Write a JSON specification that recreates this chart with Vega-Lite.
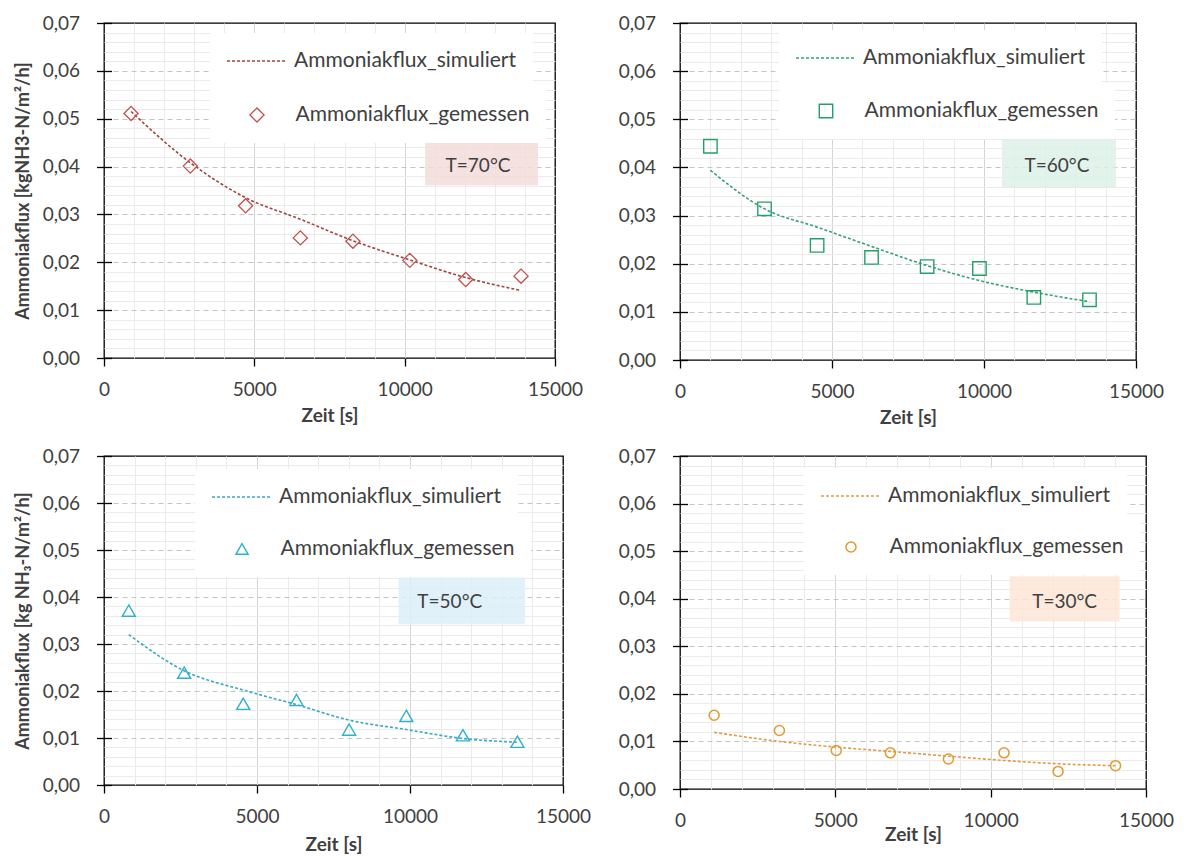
{
  "$schema": "https://vega.github.io/schema/vega-lite/v6.json",
  "background": "white",
  "padding": {"left": 13, "top": 13, "right": 5, "bottom": 5},
  "bounds": "flush",
  "columns": 2,
  "spacing": {"row": 96, "column": 117},
  "config": {
    "font": "Lato",
    "view": {"stroke": "#000000", "strokeWidth": 1.3},
    "axis": {"labelColor": "#404040", "titleColor": "#404040"},
    "legend": {"labelColor": "#404040", "labelFontSize": 21, "labelLimit": 500, "fillColor": "white", "padding": 16, "clipHeight": 24, "orient": "none", "title": null}
  },
  "resolve": {"scale": {"shape": "independent", "strokeDash": "independent"}, "legend": {"shape": "independent", "strokeDash": "independent"}},
  "datasets": {
    "m70": [
      {"Zeit": 900, "Ammoniakflux": 0.0511, "Reihe": "Ammoniakflux_gemessen"},
      {"Zeit": 2870, "Ammoniakflux": 0.0401, "Reihe": "Ammoniakflux_gemessen"},
      {"Zeit": 4710, "Ammoniakflux": 0.0318, "Reihe": "Ammoniakflux_gemessen"},
      {"Zeit": 6530, "Ammoniakflux": 0.0251, "Reihe": "Ammoniakflux_gemessen"},
      {"Zeit": 8280, "Ammoniakflux": 0.0244, "Reihe": "Ammoniakflux_gemessen"},
      {"Zeit": 10170, "Ammoniakflux": 0.0204, "Reihe": "Ammoniakflux_gemessen"},
      {"Zeit": 12030, "Ammoniakflux": 0.0164, "Reihe": "Ammoniakflux_gemessen"},
      {"Zeit": 13870, "Ammoniakflux": 0.0171, "Reihe": "Ammoniakflux_gemessen"}
    ],
    "s70": [
      {"Zeit": 900, "Ammoniakflux": 0.0515, "Reihe": "Ammoniakflux_simuliert"},
      {"Zeit": 2870, "Ammoniakflux": 0.0408, "Reihe": "Ammoniakflux_simuliert"},
      {"Zeit": 4710, "Ammoniakflux": 0.0335, "Reihe": "Ammoniakflux_simuliert"},
      {"Zeit": 6530, "Ammoniakflux": 0.0290, "Reihe": "Ammoniakflux_simuliert"},
      {"Zeit": 8280, "Ammoniakflux": 0.0245, "Reihe": "Ammoniakflux_simuliert"},
      {"Zeit": 10170, "Ammoniakflux": 0.0205, "Reihe": "Ammoniakflux_simuliert"},
      {"Zeit": 12030, "Ammoniakflux": 0.0168, "Reihe": "Ammoniakflux_simuliert"},
      {"Zeit": 13870, "Ammoniakflux": 0.0141, "Reihe": "Ammoniakflux_simuliert"}
    ],
    "m60": [
      {"Zeit": 1000, "Ammoniakflux": 0.0444, "Reihe": "Ammoniakflux_gemessen"},
      {"Zeit": 2780, "Ammoniakflux": 0.0314, "Reihe": "Ammoniakflux_gemessen"},
      {"Zeit": 4510, "Ammoniakflux": 0.0238, "Reihe": "Ammoniakflux_gemessen"},
      {"Zeit": 6300, "Ammoniakflux": 0.0213, "Reihe": "Ammoniakflux_gemessen"},
      {"Zeit": 8130, "Ammoniakflux": 0.0194, "Reihe": "Ammoniakflux_gemessen"},
      {"Zeit": 9850, "Ammoniakflux": 0.0190, "Reihe": "Ammoniakflux_gemessen"},
      {"Zeit": 11640, "Ammoniakflux": 0.0130, "Reihe": "Ammoniakflux_gemessen"},
      {"Zeit": 13470, "Ammoniakflux": 0.0125, "Reihe": "Ammoniakflux_gemessen"}
    ],
    "s60": [
      {"Zeit": 1000, "Ammoniakflux": 0.0394, "Reihe": "Ammoniakflux_simuliert"},
      {"Zeit": 2780, "Ammoniakflux": 0.0314, "Reihe": "Ammoniakflux_simuliert"},
      {"Zeit": 4510, "Ammoniakflux": 0.0276, "Reihe": "Ammoniakflux_simuliert"},
      {"Zeit": 6300, "Ammoniakflux": 0.0236, "Reihe": "Ammoniakflux_simuliert"},
      {"Zeit": 8130, "Ammoniakflux": 0.0196, "Reihe": "Ammoniakflux_simuliert"},
      {"Zeit": 9850, "Ammoniakflux": 0.0165, "Reihe": "Ammoniakflux_simuliert"},
      {"Zeit": 11640, "Ammoniakflux": 0.0141, "Reihe": "Ammoniakflux_simuliert"},
      {"Zeit": 13470, "Ammoniakflux": 0.0121, "Reihe": "Ammoniakflux_simuliert"}
    ],
    "m50": [
      {"Zeit": 810, "Ammoniakflux": 0.0371, "Reihe": "Ammoniakflux_gemessen"},
      {"Zeit": 2620, "Ammoniakflux": 0.0239, "Reihe": "Ammoniakflux_gemessen"},
      {"Zeit": 4550, "Ammoniakflux": 0.0173, "Reihe": "Ammoniakflux_gemessen"},
      {"Zeit": 6290, "Ammoniakflux": 0.0181, "Reihe": "Ammoniakflux_gemessen"},
      {"Zeit": 8010, "Ammoniakflux": 0.0118, "Reihe": "Ammoniakflux_gemessen"},
      {"Zeit": 9880, "Ammoniakflux": 0.0147, "Reihe": "Ammoniakflux_gemessen"},
      {"Zeit": 11730, "Ammoniakflux": 0.0106, "Reihe": "Ammoniakflux_gemessen"},
      {"Zeit": 13510, "Ammoniakflux": 0.0092, "Reihe": "Ammoniakflux_gemessen"}
    ],
    "s50": [
      {"Zeit": 810, "Ammoniakflux": 0.0320, "Reihe": "Ammoniakflux_simuliert"},
      {"Zeit": 2620, "Ammoniakflux": 0.0243, "Reihe": "Ammoniakflux_simuliert"},
      {"Zeit": 4550, "Ammoniakflux": 0.0202, "Reihe": "Ammoniakflux_simuliert"},
      {"Zeit": 6290, "Ammoniakflux": 0.0171, "Reihe": "Ammoniakflux_simuliert"},
      {"Zeit": 8010, "Ammoniakflux": 0.0138, "Reihe": "Ammoniakflux_simuliert"},
      {"Zeit": 9880, "Ammoniakflux": 0.0118, "Reihe": "Ammoniakflux_simuliert"},
      {"Zeit": 11730, "Ammoniakflux": 0.0099, "Reihe": "Ammoniakflux_simuliert"},
      {"Zeit": 13510, "Ammoniakflux": 0.0091, "Reihe": "Ammoniakflux_simuliert"}
    ],
    "m30": [
      {"Zeit": 1100, "Ammoniakflux": 0.0155, "Reihe": "Ammoniakflux_gemessen"},
      {"Zeit": 3200, "Ammoniakflux": 0.0123, "Reihe": "Ammoniakflux_gemessen"},
      {"Zeit": 5030, "Ammoniakflux": 0.0081, "Reihe": "Ammoniakflux_gemessen"},
      {"Zeit": 6770, "Ammoniakflux": 0.0076, "Reihe": "Ammoniakflux_gemessen"},
      {"Zeit": 8640, "Ammoniakflux": 0.0063, "Reihe": "Ammoniakflux_gemessen"},
      {"Zeit": 10430, "Ammoniakflux": 0.0076, "Reihe": "Ammoniakflux_gemessen"},
      {"Zeit": 12170, "Ammoniakflux": 0.0037, "Reihe": "Ammoniakflux_gemessen"},
      {"Zeit": 14020, "Ammoniakflux": 0.0049, "Reihe": "Ammoniakflux_gemessen"}
    ],
    "s30": [
      {"Zeit": 1100, "Ammoniakflux": 0.0119, "Reihe": "Ammoniakflux_simuliert"},
      {"Zeit": 3200, "Ammoniakflux": 0.0100, "Reihe": "Ammoniakflux_simuliert"},
      {"Zeit": 5030, "Ammoniakflux": 0.0088, "Reihe": "Ammoniakflux_simuliert"},
      {"Zeit": 6770, "Ammoniakflux": 0.0079, "Reihe": "Ammoniakflux_simuliert"},
      {"Zeit": 8640, "Ammoniakflux": 0.0069, "Reihe": "Ammoniakflux_simuliert"},
      {"Zeit": 10430, "Ammoniakflux": 0.0060, "Reihe": "Ammoniakflux_simuliert"},
      {"Zeit": 12170, "Ammoniakflux": 0.0053, "Reihe": "Ammoniakflux_simuliert"},
      {"Zeit": 14020, "Ammoniakflux": 0.0049, "Reihe": "Ammoniakflux_simuliert"}
    ]
  },
  "concat": [
    {
      "width": 451, "height": 335,
      "layer": [
        {
          "layer": [
            {"data": {"name": "s70"},
              "mark": {"type": "line", "color": "#a0453f", "strokeWidth": 1.6, "interpolate": "monotone"},
              "encoding": {
                "x": {"field": "Zeit", "type": "quantitative", "scale": {"domain": [0, 15000], "nice": false},
                  "axis": {"values": [0, 5000, 10000, 15000], "format": "d", "labelFlush": false, "grid": true, "gridColor": "#d4d4d4", "gridOpacity": {"condition": {"test": "datum.value == 0 || datum.value == 15000", "value": 0}, "value": 1}, "domain": false, "tickSize": 8, "tickColor": "#000000", "tickWidth": 1.3, "labelFontSize": 19, "labelPadding": 14, "title": "Zeit [s]", "titleFontSize": 19, "titleFontWeight": "bold", "titlePadding": 7}},
                "y": {"field": "Ammoniakflux", "type": "quantitative", "scale": {"domain": [0, 0.07], "nice": false},
                  "axis": {"values": [0, 0.01, 0.02, 0.03, 0.04, 0.05, 0.06, 0.07], "labelExpr": "replace(format(datum.value, '.2f'), '.', ',')", "grid": true, "gridDash": [5, 4], "gridColor": "#c4c4c4", "gridOpacity": {"condition": {"test": "datum.value == 0 || datum.value == 0.07", "value": 0}, "value": 1}, "domain": false, "offset": -7.5, "tickSize": 15, "tickColor": "#000000", "tickWidth": 1.3, "labelPadding": 17, "labelFontSize": 19, "title": "Ammoniakflux  [kgNH3-N/m²/h]", "titleFontSize": 18, "titleFontWeight": "bold", "titlePadding": 10}},
                "strokeDash": {"field": "Reihe", "type": "nominal", "scale": {"range": [[3, 2]]},
                  "legend": {"legendX": 106, "legendY": 10, "symbolType": "stroke", "symbolSize": 3364, "symbolStrokeColor": "#a0453f", "symbolStrokeWidth": 1.5, "labelOffset": 8}}
              }},
            {"data": {"values": [{"Label": "T=70°C"}]}, "mark": {"type": "rect", "fill": "#f2dcdb", "opacity": 0.85},
              "encoding": {"x": {"datum": 10680, "type": "quantitative"}, "x2": {"datum": 14430}, "y": {"datum": 0.0361, "type": "quantitative"}, "y2": {"datum": 0.0459}}},
            {"data": {"values": [{"Label": "T=70°C"}]}, "mark": {"type": "text", "fontSize": 19, "color": "#404040"},
              "encoding": {"x": {"datum": 12440, "type": "quantitative"}, "y": {"datum": 0.0402, "type": "quantitative"}, "text": {"field": "Label"}}},
            {"data": {"name": "m70"}, "mark": {"type": "point", "filled": false, "color": "#c0504d", "size": 200, "strokeWidth": 1.3, "opacity": 1},
              "encoding": {
                "x": {"field": "Zeit", "type": "quantitative"},
                "y": {"field": "Ammoniakflux", "type": "quantitative"},
                "shape": {"field": "Reihe", "type": "nominal", "scale": {"range": ["diamond"]},
                  "legend": {"legendX": 106, "legendY": 64, "symbolSize": 200, "symbolOffset": 20.5, "labelOffset": 28, "symbolStrokeColor": "#c0504d", "symbolStrokeWidth": 1.3}}
              }}
          ]
        },
        {
          "data": {"name": "m70"},
          "mark": {"type": "point", "opacity": 0},
          "encoding": {
            "x": {"field": "Zeit", "type": "quantitative", "scale": {"domain": [0, 15000], "nice": false},
              "axis": {"orient": "top", "values": [1000, 2000, 3000, 4000, 6000, 7000, 8000, 9000, 11000, 12000, 13000, 14000], "grid": true, "gridColor": "#ebebeb", "labels": false, "ticks": false, "domain": false, "title": null}},
            "y": {"field": "Ammoniakflux", "type": "quantitative", "scale": {"domain": [0, 0.07], "nice": false},
              "axis": {"orient": "right", "values": [0.002, 0.004, 0.006, 0.008, 0.012, 0.014, 0.016, 0.018, 0.022, 0.024, 0.026, 0.028, 0.032, 0.034, 0.036, 0.038, 0.042, 0.044, 0.046, 0.048, 0.052, 0.054, 0.056, 0.058, 0.062, 0.064, 0.066, 0.068], "grid": true, "gridColor": "#ebebeb", "labels": false, "ticks": false, "domain": false, "title": null}}
          }
        }
      ],
      "resolve": {"scale": {"x": "independent", "y": "independent"}}
    },
    {
      "width": 456, "height": 337,
      "layer": [
        {
          "layer": [
            {"data": {"name": "s60"},
              "mark": {"type": "line", "color": "#3a9f78", "strokeWidth": 1.6, "interpolate": "monotone"},
              "encoding": {
                "x": {"field": "Zeit", "type": "quantitative", "scale": {"domain": [0, 15000], "nice": false},
                  "axis": {"values": [0, 5000, 10000, 15000], "format": "d", "labelFlush": false, "grid": true, "gridColor": "#d4d4d4", "gridOpacity": {"condition": {"test": "datum.value == 0 || datum.value == 15000", "value": 0}, "value": 1}, "domain": false, "tickSize": 8, "tickColor": "#000000", "tickWidth": 1.3, "labelFontSize": 19, "labelPadding": 14, "title": "Zeit [s]", "titleFontSize": 19, "titleFontWeight": "bold", "titlePadding": 7}},
                "y": {"field": "Ammoniakflux", "type": "quantitative", "scale": {"domain": [0, 0.07], "nice": false},
                  "axis": {"values": [0, 0.01, 0.02, 0.03, 0.04, 0.05, 0.06, 0.07], "labelExpr": "replace(format(datum.value, '.2f'), '.', ',')", "grid": true, "gridDash": [5, 4], "gridColor": "#c4c4c4", "gridOpacity": {"condition": {"test": "datum.value == 0 || datum.value == 0.07", "value": 0}, "value": 1}, "domain": false, "offset": -7.5, "tickSize": 15, "tickColor": "#000000", "tickWidth": 1.3, "labelPadding": 17, "labelFontSize": 19, "title": null}},
                "strokeDash": {"field": "Reihe", "type": "nominal", "scale": {"range": [[3, 2]]},
                  "legend": {"legendX": 99, "legendY": 7, "symbolType": "stroke", "symbolSize": 3364, "symbolStrokeColor": "#3a9f78", "symbolStrokeWidth": 1.5, "labelOffset": 8}}
              }},
            {"data": {"values": [{"Label": "T=60°C"}]}, "mark": {"type": "rect", "fill": "#dcf1e7", "opacity": 0.85},
              "encoding": {"x": {"datum": 10590, "type": "quantitative"}, "x2": {"datum": 14340}, "y": {"datum": 0.0359, "type": "quantitative"}, "y2": {"datum": 0.0463}}},
            {"data": {"values": [{"Label": "T=60°C"}]}, "mark": {"type": "text", "fontSize": 19, "color": "#404040"},
              "encoding": {"x": {"datum": 12400, "type": "quantitative"}, "y": {"datum": 0.0404, "type": "quantitative"}, "text": {"field": "Label"}}},
            {"data": {"name": "m60"}, "mark": {"type": "point", "filled": false, "color": "#23a06a", "size": 180, "strokeWidth": 1.4, "opacity": 1},
              "encoding": {
                "x": {"field": "Zeit", "type": "quantitative"},
                "y": {"field": "Ammoniakflux", "type": "quantitative"},
                "shape": {"field": "Reihe", "type": "nominal", "scale": {"range": ["square"]},
                  "legend": {"legendX": 99, "legendY": 60, "symbolSize": 180, "symbolOffset": 20.5, "labelOffset": 28, "symbolStrokeColor": "#23a06a", "symbolStrokeWidth": 1.4}}
              }}
          ]
        },
        {
          "data": {"name": "m60"},
          "mark": {"type": "point", "opacity": 0},
          "encoding": {
            "x": {"field": "Zeit", "type": "quantitative", "scale": {"domain": [0, 15000], "nice": false},
              "axis": {"orient": "top", "values": [1000, 2000, 3000, 4000, 6000, 7000, 8000, 9000, 11000, 12000, 13000, 14000], "grid": true, "gridColor": "#ebebeb", "labels": false, "ticks": false, "domain": false, "title": null}},
            "y": {"field": "Ammoniakflux", "type": "quantitative", "scale": {"domain": [0, 0.07], "nice": false},
              "axis": {"orient": "right", "values": [0.002, 0.004, 0.006, 0.008, 0.012, 0.014, 0.016, 0.018, 0.022, 0.024, 0.026, 0.028, 0.032, 0.034, 0.036, 0.038, 0.042, 0.044, 0.046, 0.048, 0.052, 0.054, 0.056, 0.058, 0.062, 0.064, 0.066, 0.068], "grid": true, "gridColor": "#ebebeb", "labels": false, "ticks": false, "domain": false, "title": null}}
          }
        }
      ],
      "resolve": {"scale": {"x": "independent", "y": "independent"}}
    },
    {
      "width": 459, "height": 329,
      "layer": [
        {
          "layer": [
            {"data": {"name": "s50"},
              "mark": {"type": "line", "color": "#3aa8c4", "strokeWidth": 1.6, "interpolate": "monotone"},
              "encoding": {
                "x": {"field": "Zeit", "type": "quantitative", "scale": {"domain": [0, 15000], "nice": false},
                  "axis": {"values": [0, 5000, 10000, 15000], "format": "d", "labelFlush": false, "grid": true, "gridColor": "#d4d4d4", "gridOpacity": {"condition": {"test": "datum.value == 0 || datum.value == 15000", "value": 0}, "value": 1}, "domain": false, "tickSize": 8, "tickColor": "#000000", "tickWidth": 1.3, "labelFontSize": 19, "labelPadding": 14, "title": "Zeit [s]", "titleFontSize": 19, "titleFontWeight": "bold", "titlePadding": 9}},
                "y": {"field": "Ammoniakflux", "type": "quantitative", "scale": {"domain": [0, 0.07], "nice": false},
                  "axis": {"values": [0, 0.01, 0.02, 0.03, 0.04, 0.05, 0.06, 0.07], "labelExpr": "replace(format(datum.value, '.2f'), '.', ',')", "grid": true, "gridDash": [5, 4], "gridColor": "#c4c4c4", "gridOpacity": {"condition": {"test": "datum.value == 0 || datum.value == 0.07", "value": 0}, "value": 1}, "domain": false, "offset": -7.5, "tickSize": 15, "tickColor": "#000000", "tickWidth": 1.3, "labelPadding": 17, "labelFontSize": 19, "title": "Ammoniakflux  [kg NH₃-N/m²/h]", "titleFontSize": 18, "titleFontWeight": "bold", "titlePadding": 10}},
                "strokeDash": {"field": "Reihe", "type": "nominal", "scale": {"range": [[3, 2]]},
                  "legend": {"legendX": 91, "legendY": 13, "symbolType": "stroke", "symbolSize": 3364, "symbolStrokeColor": "#3aa8c4", "symbolStrokeWidth": 1.5, "labelOffset": 8}}
              }},
            {"data": {"values": [{"Label": "T=50°C"}]}, "mark": {"type": "rect", "fill": "#dbeef9", "opacity": 0.85},
              "encoding": {"x": {"datum": 9630, "type": "quantitative"}, "x2": {"datum": 13760}, "y": {"datum": 0.0342, "type": "quantitative"}, "y2": {"datum": 0.0441}}},
            {"data": {"values": [{"Label": "T=50°C"}]}, "mark": {"type": "text", "fontSize": 19, "color": "#404040"},
              "encoding": {"x": {"datum": 11300, "type": "quantitative"}, "y": {"datum": 0.0390, "type": "quantitative"}, "text": {"field": "Label"}}},
            {"data": {"name": "m50"}, "mark": {"type": "point", "filled": false, "color": "#2fb2c8", "size": 170, "strokeWidth": 1.4, "opacity": 1},
              "encoding": {
                "x": {"field": "Zeit", "type": "quantitative"},
                "y": {"field": "Ammoniakflux", "type": "quantitative"},
                "shape": {"field": "Reihe", "type": "nominal", "scale": {"range": ["triangle-up"]},
                  "legend": {"legendX": 91, "legendY": 65, "symbolSize": 150, "symbolOffset": 20.5, "labelOffset": 28, "symbolStrokeColor": "#2fb2c8", "symbolStrokeWidth": 1.4}}
              }}
          ]
        },
        {
          "data": {"name": "m50"},
          "mark": {"type": "point", "opacity": 0},
          "encoding": {
            "x": {"field": "Zeit", "type": "quantitative", "scale": {"domain": [0, 15000], "nice": false},
              "axis": {"orient": "top", "values": [1000, 2000, 3000, 4000, 6000, 7000, 8000, 9000, 11000, 12000, 13000, 14000], "grid": true, "gridColor": "#ebebeb", "labels": false, "ticks": false, "domain": false, "title": null}},
            "y": {"field": "Ammoniakflux", "type": "quantitative", "scale": {"domain": [0, 0.07], "nice": false},
              "axis": {"orient": "right", "values": [0.002, 0.004, 0.006, 0.008, 0.012, 0.014, 0.016, 0.018, 0.022, 0.024, 0.026, 0.028, 0.032, 0.034, 0.036, 0.038, 0.042, 0.044, 0.046, 0.048, 0.052, 0.054, 0.056, 0.058, 0.062, 0.064, 0.066, 0.068], "grid": true, "gridColor": "#ebebeb", "labels": false, "ticks": false, "domain": false, "title": null}}
          }
        }
      ],
      "resolve": {"scale": {"x": "independent", "y": "independent"}}
    },
    {
      "width": 466, "height": 333,
      "layer": [
        {
          "layer": [
            {"data": {"name": "s30"},
              "mark": {"type": "line", "color": "#e39a45", "strokeWidth": 1.6, "interpolate": "monotone"},
              "encoding": {
                "x": {"field": "Zeit", "type": "quantitative", "scale": {"domain": [0, 15000], "nice": false},
                  "axis": {"values": [0, 5000, 10000, 15000], "format": "d", "labelFlush": false, "grid": true, "gridColor": "#d4d4d4", "gridOpacity": {"condition": {"test": "datum.value == 0 || datum.value == 15000", "value": 0}, "value": 1}, "domain": false, "tickSize": 8, "tickColor": "#000000", "tickWidth": 1.3, "labelFontSize": 19, "labelPadding": 14, "title": "Zeit [s]", "titleFontSize": 19, "titleFontWeight": "bold", "titlePadding": -5}},
                "y": {"field": "Ammoniakflux", "type": "quantitative", "scale": {"domain": [0, 0.07], "nice": false},
                  "axis": {"values": [0, 0.01, 0.02, 0.03, 0.04, 0.05, 0.06, 0.07], "labelExpr": "replace(format(datum.value, '.2f'), '.', ',')", "grid": true, "gridDash": [5, 4], "gridColor": "#c4c4c4", "gridOpacity": {"condition": {"test": "datum.value == 0 || datum.value == 0.07", "value": 0}, "value": 1}, "domain": false, "offset": -7.5, "tickSize": 15, "tickColor": "#000000", "tickWidth": 1.3, "labelPadding": 17, "labelFontSize": 19, "title": null}},
                "strokeDash": {"field": "Reihe", "type": "nominal", "scale": {"range": [[3, 2]]},
                  "legend": {"legendX": 124, "legendY": 12, "symbolType": "stroke", "symbolSize": 3364, "symbolStrokeColor": "#e39a45", "symbolStrokeWidth": 1.5, "labelOffset": 8}}
              }},
            {"data": {"values": [{"Label": "T=30°C"}]}, "mark": {"type": "rect", "fill": "#fde6d6", "opacity": 0.85},
              "encoding": {"x": {"datum": 10610, "type": "quantitative"}, "x2": {"datum": 14150}, "y": {"datum": 0.0352, "type": "quantitative"}, "y2": {"datum": 0.0447}}},
            {"data": {"values": [{"Label": "T=30°C"}]}, "mark": {"type": "text", "fontSize": 19, "color": "#404040"},
              "encoding": {"x": {"datum": 12380, "type": "quantitative"}, "y": {"datum": 0.0394, "type": "quantitative"}, "text": {"field": "Label"}}},
            {"data": {"name": "m30"}, "mark": {"type": "point", "filled": false, "color": "#e09a30", "size": 100, "strokeWidth": 1.5, "opacity": 1},
              "encoding": {
                "x": {"field": "Zeit", "type": "quantitative"},
                "y": {"field": "Ammoniakflux", "type": "quantitative"},
                "shape": {"field": "Reihe", "type": "nominal", "scale": {"range": ["circle"]},
                  "legend": {"legendX": 124, "legendY": 63, "symbolSize": 100, "symbolOffset": 20.5, "labelOffset": 28, "symbolStrokeColor": "#e09a30", "symbolStrokeWidth": 1.5}}
              }}
          ]
        },
        {
          "data": {"name": "m30"},
          "mark": {"type": "point", "opacity": 0},
          "encoding": {
            "x": {"field": "Zeit", "type": "quantitative", "scale": {"domain": [0, 15000], "nice": false},
              "axis": {"orient": "top", "values": [1000, 2000, 3000, 4000, 6000, 7000, 8000, 9000, 11000, 12000, 13000, 14000], "grid": true, "gridColor": "#ebebeb", "labels": false, "ticks": false, "domain": false, "title": null}},
            "y": {"field": "Ammoniakflux", "type": "quantitative", "scale": {"domain": [0, 0.07], "nice": false},
              "axis": {"orient": "right", "values": [0.002, 0.004, 0.006, 0.008, 0.012, 0.014, 0.016, 0.018, 0.022, 0.024, 0.026, 0.028, 0.032, 0.034, 0.036, 0.038, 0.042, 0.044, 0.046, 0.048, 0.052, 0.054, 0.056, 0.058, 0.062, 0.064, 0.066, 0.068], "grid": true, "gridColor": "#ebebeb", "labels": false, "ticks": false, "domain": false, "title": null}}
          }
        }
      ],
      "resolve": {"scale": {"x": "independent", "y": "independent"}}
    }
  ]
}
